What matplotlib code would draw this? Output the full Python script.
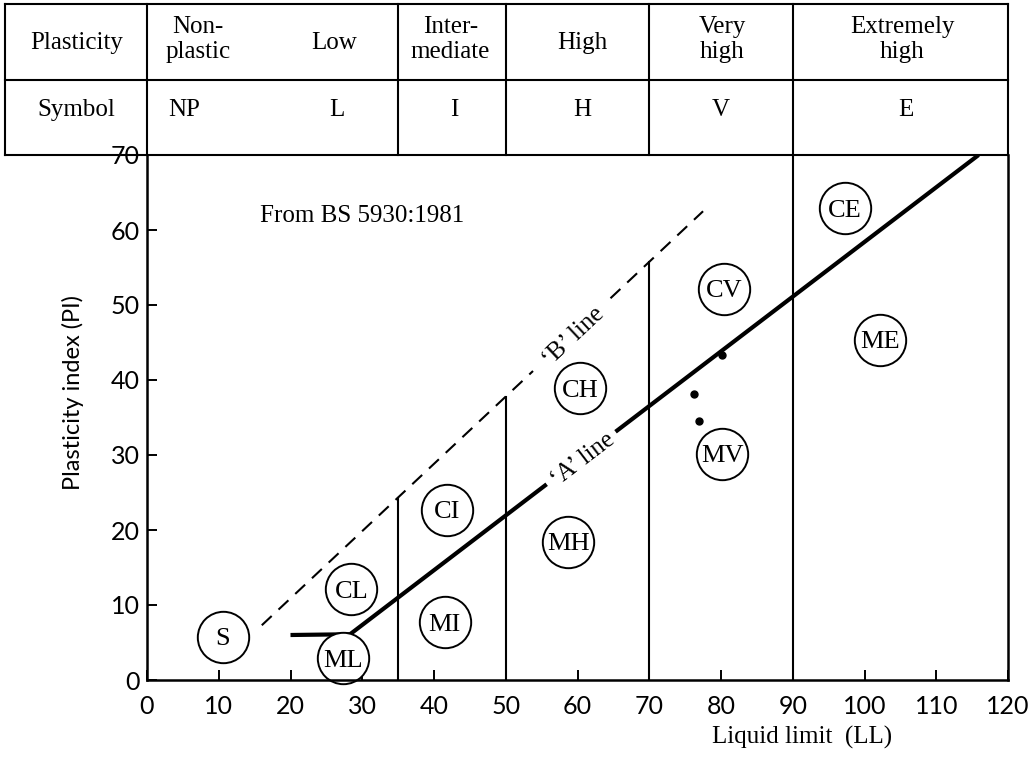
import math
import matplotlib
matplotlib.use("Agg")
import matplotlib.pyplot as plt
from matplotlib.transforms import blended_transform_factory

# Plasticity bands shown in the table above the chart
band_edges = [0, 35, 50, 70, 90, 120]
band_names = ["Non-\nplastic", "Low", "Inter-\nmediate", "High", "Very\nhigh", "Extremely\nhigh"]
band_name_x = [7.1, 26.1, 42.3, 60.7, 80.2, 105.3]
band_symbols = ["NP", "L", "I", "H", "V", "E"]
band_symbol_x = [5.2, 26.4, 42.8, 60.7, 80.0, 105.7]
row_headers = ["Plasticity", "Symbol"]

# Boundary lines inside the chart: liquid limit and the PI where each stops
divider_ll = [35, 50, 70, 90]
divider_top = [24.3, 37.8, 55.8, 70.0]

# 'A' line (solid), in two pieces around its label
a_line_ll_1 = [20.0, 28.3, 55.7]
a_line_pi_1 = [6.0, 6.1, 26.1]
a_line_ll_2 = [65.3, 115.9]
a_line_pi_2 = [33.1, 70.0]

# 'B' line (dashed), in two pieces around its label
b_line_ll_1 = [16.0, 53.8]
b_line_pi_1 = [7.3, 41.2]
b_line_ll_2 = [64.6, 77.5]
b_line_pi_2 = [50.9, 62.5]

# Soil group symbols
group_names = ["S", "CL", "ML", "CI", "MI", "CH", "MH", "CV", "MV", "CE", "ME"]
group_ll = [10.6, 28.5, 27.3, 41.8, 41.5, 60.4, 58.7, 80.4, 80.2, 97.3, 102.2]
group_pi = [5.8, 12.1, 2.9, 22.7, 7.7, 38.9, 18.4, 52.2, 30.2, 62.9, 45.4]

# Sample points
sample_ll = [80.1, 76.3, 76.9]
sample_pi = [43.4, 38.2, 34.6]

x_ticks = list(range(0, 121, 10))
y_ticks = list(range(0, 71, 10))

SERIF = "Liberation Serif"
SANS = "Lato"
FS = 18

W, H = 1033, 761
fig = plt.figure(figsize=(W / 100, H / 100), dpi=100)
ax = fig.add_axes([147 / W, 1 - 680 / H, (1008 - 147) / W, (680 - 155) / H])
ax.set_xlim(0, 120)
ax.set_ylim(0, 70)


def fy(px):
    """Figure fraction for a pixel row counted from the top."""
    return 1 - px / H


# Frame
for side in ("left", "bottom", "right"):
    ax.spines[side].set_linewidth(1.8)
ax.spines["top"].set_visible(False)

ax.set_xticks(x_ticks)
ax.set_yticks(y_ticks)
ax.tick_params(direction="in", length=7, width=1.4, labelsize=18)
ax.tick_params(axis="x", pad=11)
ax.tick_params(axis="y", pad=5)
for lab in ax.get_xticklabels() + ax.get_yticklabels():
    lab.set_fontfamily(SANS)

# Table above the chart (x in liquid-limit units, y in figure fraction)
tr = blended_transform_factory(ax.transData, fig.transFigure)
tab_left, tab_right = -19.8, 120
y_top, y_mid, y_bot = fy(4), fy(80), fy(155)
lw_tab = 1.5
for yy in (y_top, y_mid, y_bot):
    ax.plot([tab_left, tab_right], [yy, yy], color="black", lw=lw_tab,
            transform=tr, clip_on=False, solid_capstyle="projecting")
for xx in [tab_left] + band_edges:
    ax.plot([xx, xx], [y_bot, y_top], color="black", lw=lw_tab,
            transform=tr, clip_on=False)

ax.text(-9.8, fy(49), row_headers[0], transform=tr, ha="center", va="baseline",
        fontsize=FS, family=SERIF)
ax.text(-9.8, fy(116), row_headers[1], transform=tr, ha="center", va="baseline",
        fontsize=FS, family=SERIF)

for name, xx in zip(band_names, band_name_x):
    parts = name.split("\n")
    if len(parts) == 1:
        ax.text(xx, fy(49), parts[0], transform=tr, ha="center", va="baseline",
                fontsize=FS, family=SERIF)
    else:
        for part, base in zip(parts, (33, 58)):
            ax.text(xx, fy(base), part, transform=tr, ha="center", va="baseline",
                    fontsize=FS, family=SERIF)

for sym, xx in zip(band_symbols, band_symbol_x):
    ax.text(xx, fy(116), sym, transform=tr, ha="center", va="baseline",
            fontsize=FS, family=SERIF)

# Vertical boundaries
for xx, top in zip(divider_ll, divider_top):
    ax.plot([xx, xx], [0, top], color="black", lw=1.5, zorder=2)

# 'A' line
ax.plot(a_line_ll_1, a_line_pi_1, color="black", lw=3.0, solid_capstyle="butt",
        solid_joinstyle="round", zorder=2)
ax.plot(a_line_ll_2, a_line_pi_2, color="black", lw=3.0, solid_capstyle="butt", zorder=2)

# 'B' line
ax.plot(b_line_ll_1, b_line_pi_1, color="black", lw=1.5, dashes=(6.5, 4.5), zorder=2)
ax.plot(b_line_ll_2, b_line_pi_2, color="black", lw=1.5, dashes=(6.5, 4.5), zorder=2)


def line_angle(xs, ys):
    p0 = ax.transData.transform((xs[0], ys[0]))
    p1 = ax.transData.transform((xs[-1], ys[-1]))
    return math.degrees(math.atan2(p1[1] - p0[1], p1[0] - p0[0]))


a_ang = line_angle([a_line_ll_1[-1], a_line_ll_2[0]], [a_line_pi_1[-1], a_line_pi_2[0]])
b_ang = line_angle([b_line_ll_1[-1], b_line_ll_2[0]], [b_line_pi_1[-1], b_line_pi_2[0]])
ax.text((a_line_ll_1[-1] + a_line_ll_2[0]) / 2, (a_line_pi_1[-1] + a_line_pi_2[0]) / 2,
        "\u2018A\u2019 line", rotation=a_ang, rotation_mode="anchor",
        ha="center", va="center_baseline", fontsize=FS, family=SERIF)
ax.text((b_line_ll_1[-1] + b_line_ll_2[0]) / 2, (b_line_pi_1[-1] + b_line_pi_2[0]) / 2,
        "\u2018B\u2019 line", rotation=b_ang, rotation_mode="anchor",
        ha="center", va="center_baseline", fontsize=FS, family=SERIF)

# Group symbols in circles
ax.plot(group_ll, group_pi, "o", ms=37, mfc="white", mec="black", mew=1.4,
        zorder=2.2, clip_on=False)
for name, xx, yy in zip(group_names, group_ll, group_pi):
    ax.text(xx, yy, name, ha="center", va="center_baseline", fontsize=19,
            family=SERIF, zorder=3)

# Sample points
ax.plot(sample_ll, sample_pi, "o", ms=5, color="black", zorder=3)

ax.text(15.8, 61.8, "From BS 5930:1981", ha="left", va="center",
        fontsize=FS, family=SERIF)

fig.text(73 / W, fy(392), "Plasticity index (PI)", rotation=90, ha="center",
         va="center", fontsize=17, family=SANS)
fig.text(802 / W, fy(737), "Liquid limit  (LL)", ha="center", va="center",
         fontsize=FS, family=SERIF)

fig.savefig("out.png", dpi=100, facecolor="white")
